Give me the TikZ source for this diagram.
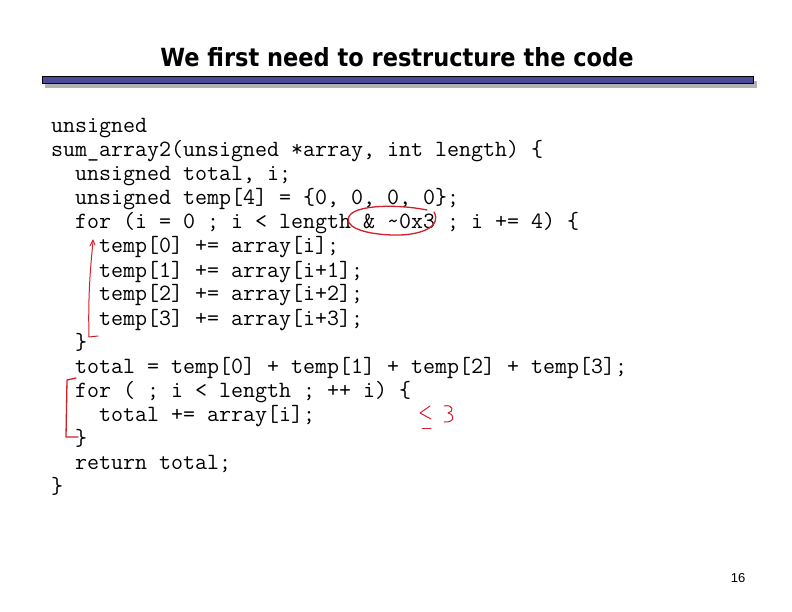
\documentclass[tikz,border=0pt]{standalone}
\usepackage{fontspec}
\setmainfont{Liberation Sans}
\newfontfamily\titlefont{DejaVu Sans Condensed}
\definecolor{barblue}{HTML}{4A4A98}
\definecolor{pen}{HTML}{D0202A}
\begin{document}
\begin{tikzpicture}[x=1pt,y=-1pt,
  code/.style={anchor=base west,inner sep=0,font=\ttfamily\fontsize{23.3}{24}\selectfont},
  ink/.style={draw=pen,line width=1.3pt,line cap=round,line join=round}]
\useasboundingbox (0,0) rectangle (792,612);
\node[font=\titlefont\bfseries\fontsize{25}{26}\selectfont] (title) at (397,57) {We first need to restructure the code};
\fill[gray!60] (45,81) rectangle (757,88);
\draw[fill=barblue,line width=1pt] (42,77) rectangle (753,84);
\foreach \t [count=\k from 0] in {
 {unsigned},
 {sum\_array2(unsigned *array, int length) \{},
 {\ \ unsigned total, i;},
 {\ \ unsigned temp[4] = \{0, 0, 0, 0\};},
 {\ \ for (i = 0 ; i < length \& \textasciitilde0x3 ; i += 4) \{},
 {\ \ \ \ temp[0] += array[i];},
 {\ \ \ \ temp[1] += array[i+1];},
 {\ \ \ \ temp[2] += array[i+2];},
 {\ \ \ \ temp[3] += array[i+3];},
 {\ \ \}},
 {\ \ total = temp[0] + temp[1] + temp[2] + temp[3];},
 {\ \ for ( ; i < length ; ++ i) \{},
 {\ \ \ \ total += array[i];},
 {\ \ \}},
 {\ \ return total;},
 {\}}}
  \node[code] (l\k) at (51,{133+24*\k}) {\t};
\draw[ink] (434,212) .. controls (442,226) and (422,236) .. (392,235)
  .. controls (362,234) and (342,226) .. (350,215)
  .. controls (358,205) and (397,204) .. (427,210);
\draw[ink,line width=1pt] (89,337) .. controls (88,300) and (90,270) .. (93,242);
\draw[ink,line width=1pt] (90,246) -- (93,240) -- (95,245);
\draw[ink,line width=1pt] (89,337) -- (98,336);
\draw[ink] (76,378) -- (67,380) -- (66,437) -- (78,437);
\draw[ink,line width=1pt] (430,406) -- (420,413) -- (431,419);
\draw[ink,line width=1pt] (422,428) -- (431,428);
\draw[ink,line width=1pt] (444,406) .. controls (454,404) and (454,412) .. (448,413)
  .. controls (456,415) and (454,423) .. (444,422);
\node[font=\fontsize{13}{14}\selectfont] (pg) at (738,578) {16};
\end{tikzpicture}
\end{document}
